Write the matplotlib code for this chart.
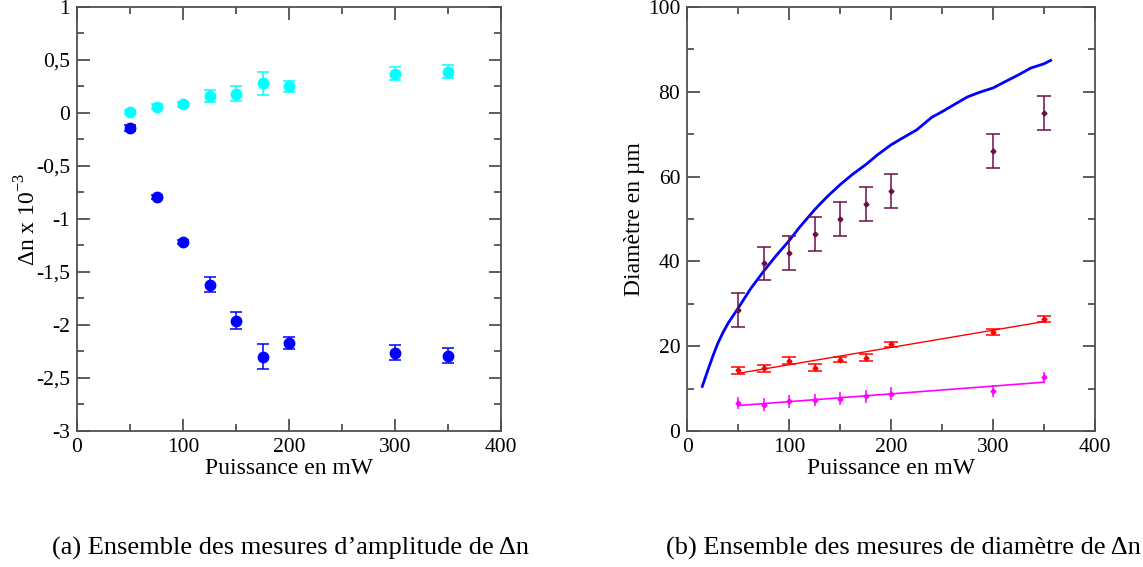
import numpy as np
import matplotlib
matplotlib.use('Agg')
from matplotlib import pyplot as plt
from matplotlib.ticker import MultipleLocator, FixedLocator, FixedFormatter

plt.rcParams['font.family'] = ['Liberation Serif', 'DejaVu Serif']
plt.rcParams['mathtext.fontset'] = 'custom'
plt.rcParams['mathtext.rm'] = 'Liberation Serif'

# puissances mesurees (mW)
puissance = [50, 75, 100, 125, 150, 175, 200, 300, 350]

# (a) amplitude de delta n (x 1e-3)
dn_pos = [0.01, 0.06, 0.08, 0.16, 0.18, 0.28, 0.25, 0.37, 0.39]
dn_pos_err = [0.02, 0.02, 0.02, 0.06, 0.07, 0.11, 0.05, 0.06, 0.06]
dn_neg = [-0.14, -0.79, -1.22, -1.62, -1.96, -2.30, -2.17, -2.26, -2.29]
dn_neg_err = [0.03, 0.02, 0.02, 0.07, 0.08, 0.12, 0.06, 0.07, 0.07]

# (b) diametres (um)
diam_grand = [28.5, 39.5, 42.0, 46.5, 50.0, 53.5, 56.5, 66.0, 75.0]
diam_grand_err = [4, 4, 4, 4, 4, 4, 4, 4, 4]
diam_moyen = [14.3, 14.8, 16.6, 14.9, 16.8, 17.3, 20.4, 23.4, 26.4]
diam_moyen_err = [0.8, 0.8, 0.8, 0.8, 0.6, 0.8, 0.7, 0.7, 0.7]
diam_petit = [6.6, 6.2, 7.0, 7.3, 7.6, 8.2, 8.8, 9.4, 12.8]
diam_petit_err = [1.5, 1.5, 1.5, 1.5, 1.5, 1.5, 1.5, 1.5, 1.2]

# courbe theorique (bleue)
courbe_x = [14.7, 20, 25, 30, 35, 40, 50, 62, 75, 87, 100, 110, 125, 137, 150, 162, 175, 187,
            200, 212, 225, 240, 250, 262, 275, 287, 300, 312, 325, 337, 350, 356.5]
courbe_y = [10.5, 14.2, 17.6, 20.7, 23.2, 25.4, 29.0, 33.5, 37.7, 41.3, 44.9, 48.0, 52.2, 55.2, 58.1, 60.5,
            62.8, 65.2, 67.5, 69.2, 71.0, 74.0, 75.3, 77.0, 78.8, 79.9, 80.9, 82.4, 84.0, 85.6, 86.6, 87.4]

# ajustements lineaires
fit_x = [50, 350]
fit_moyen = [13.6, 25.8]
fit_petit = [6.0, 11.5]

a_yticks = [1, 0.5, 0, -0.5, -1, -1.5, -2, -2.5, -3]
a_ylabels = ['1', '0,5', '0', '-0,5', '-1', '-1,5', '-2', '-2,5', '-3']

axis_col = '#505050'


def style_axes(ax):
    for s in ax.spines.values():
        s.set_color(axis_col)
        s.set_linewidth(1.3)
    ax.tick_params(which='both', direction='in', top=True, right=True,
                   color=axis_col, width=1.3, labelsize=15.5, pad=5)
    ax.tick_params(which='major', length=9)
    ax.tick_params(which='minor', length=5)
    ax.xaxis.set_major_locator(MultipleLocator(100))
    ax.xaxis.set_minor_locator(MultipleLocator(50))
    ax.set_xlim(0, 400)
    ax.set_xlabel('Puissance en mW', fontsize=17, labelpad=1)


fig = plt.figure(figsize=(11.43, 5.67), dpi=100)

ax1 = fig.add_axes([0.0674, 0.2399, 0.3710, 0.7478])
style_axes(ax1)
ax1.errorbar(puissance, dn_pos, yerr=dn_pos_err, fmt='o', color='#00ffff',
             ms=7.5, capsize=4.5, elinewidth=1.1, capthick=1.1)
ax1.errorbar(puissance, dn_neg, yerr=dn_neg_err, fmt='o', color='#0000ff',
             ms=7.5, capsize=4.5, elinewidth=1.1, capthick=1.1)
ax1.set_ylim(-3, 1)
ax1.yaxis.set_major_locator(FixedLocator(a_yticks))
ax1.yaxis.set_major_formatter(FixedFormatter(a_ylabels))
ax1.yaxis.set_minor_locator(MultipleLocator(0.25))
ax1.set_ylabel('Δn x 10$^{-3}$', fontsize=17, labelpad=-3)

ax2 = fig.add_axes([0.6013, 0.2399, 0.3567, 0.7478])
style_axes(ax2)
ax2.plot(courbe_x, courbe_y, color='#0000ff', lw=2.0)
ax2.errorbar(puissance, diam_grand, yerr=diam_grand_err, fmt='D', color='#6a1048',
             ms=2.5, capsize=5, elinewidth=1.1, capthick=1.1)
ax2.plot(fit_x, fit_moyen, color='#ff0000', lw=1.0)
ax2.errorbar(puissance, diam_moyen, yerr=diam_moyen_err, fmt='D', color='#ff0000',
             ms=2.5, capsize=5, elinewidth=1.1, capthick=1.1)
ax2.plot(fit_x, fit_petit, color='#ff00ff', lw=1.2)
ax2.errorbar(puissance, diam_petit, yerr=diam_petit_err, fmt='D', color='#ff00ff',
             ms=2.5, capsize=0, elinewidth=1.1)
ax2.set_ylim(0, 100)
ax2.yaxis.set_major_locator(MultipleLocator(20))
ax2.yaxis.set_minor_locator(MultipleLocator(10))
ax2.set_ylabel('Diamètre en µm', fontsize=17, labelpad=2)

fig.text(0.254, 0.032, '(a) Ensemble des mesures d’amplitude de Δn',
         ha='center', va='center', fontsize=19)
fig.text(0.790, 0.032, '(b) Ensemble des mesures de diamètre de Δn',
         ha='center', va='center', fontsize=19)

fig.savefig('out.png', dpi=100)
